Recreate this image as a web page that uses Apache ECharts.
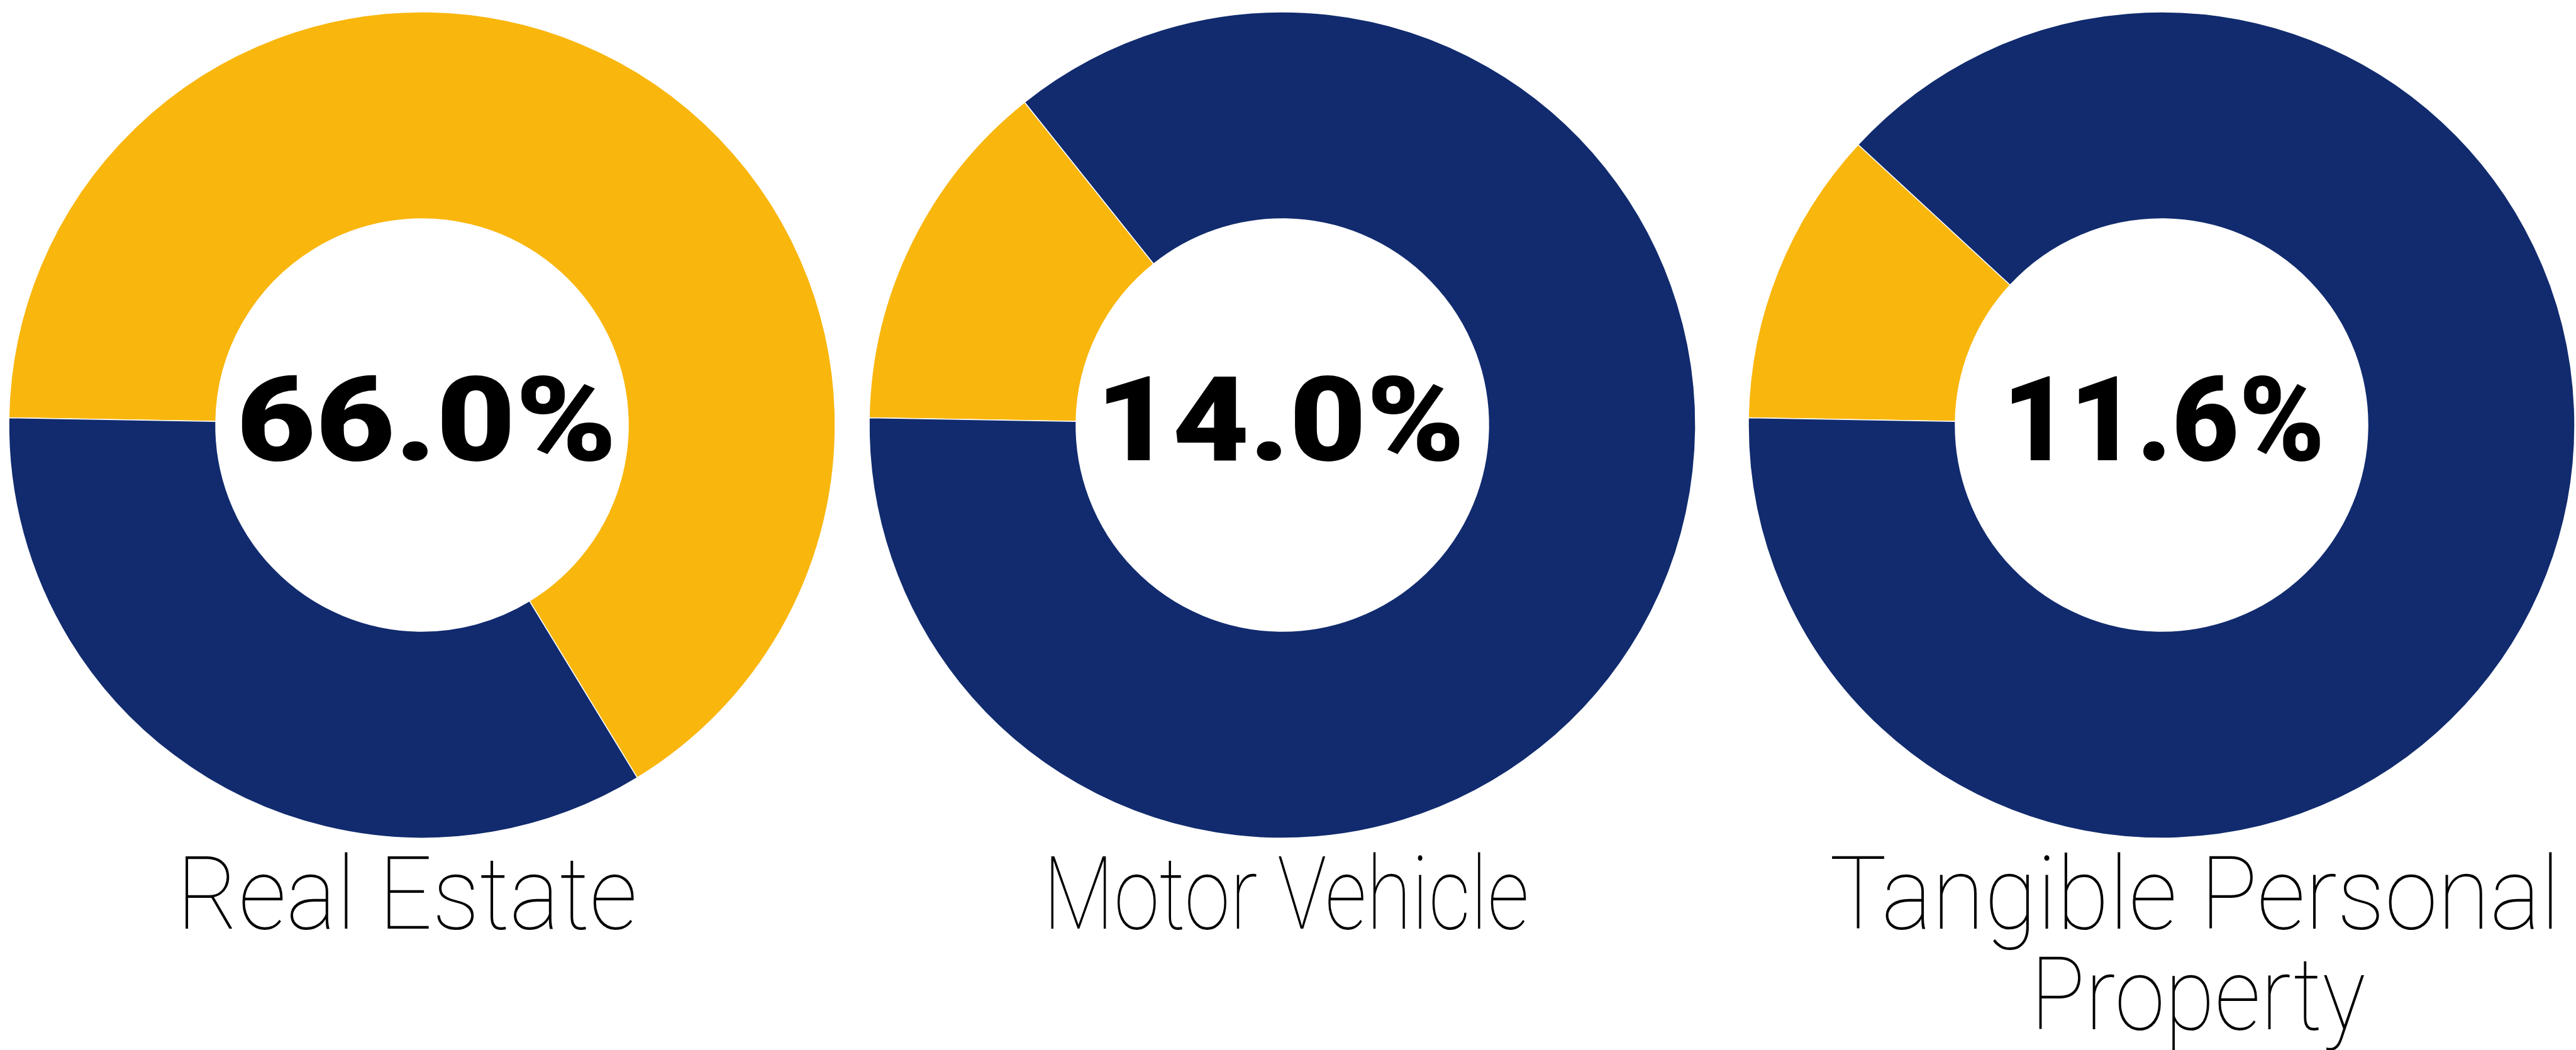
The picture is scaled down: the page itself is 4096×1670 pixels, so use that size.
<!DOCTYPE html>
<html>
<head>
<meta charset="utf-8">
<script src="https://cdn.jsdelivr.net/npm/echarts@6/dist/echarts.min.js"></script>
<style>
  html, body { margin: 0; padding: 0; background: #fff; }
  #main { width: 4096px; height: 1670px; }
</style>
</head>
<body>
<div id="main"></div>
<script>
// data
var categories = ['Real Estate', 'Motor Vehicle', 'Tangible Personal\nProperty'];
var shareValues = [66.0, 14.0, 11.6];
var otherValues = [34.0, 86.0, 88.4];

var YELLOW = '#F9B60D';
var NAVY = '#112B6E';

// layout per donut
var centersX = [671, 2039, 3437];
var centerY = 676;
var valueLeft = [376, 1742, 3184];
var valueScale = [1.162, 1.128, 0.985];
var labelX = [[647], [2045], [3490, 3495]];
var labelScale = [[0.93], [0.81], [0.94, 0.894]];

var chart = echarts.init(document.getElementById('main'));

var series = [];
var graphics = [];
categories.forEach(function (name, i) {
    series.push({
        type: 'pie',
        center: [centersX[i], centerY],
        radius: [328, 657],
        startAngle: 179,
        clockwise: true,
        silent: true,
        label: { show: false },
        labelLine: { show: false },
        itemStyle: { borderColor: '#fff', borderWidth: 1.5 },
        data: [
            { name: name, value: shareValues[i], itemStyle: { color: YELLOW } },
            { name: 'Other', value: otherValues[i], itemStyle: { color: NAVY } }
        ]
    });
    graphics.push({
        type: 'text',
        z: 100,
        x: valueLeft[i],
        y: 685,
        scaleX: valueScale[i],
        style: {
            text: shareValues[i].toFixed(1) + '%',
            fill: '#000',
            font: '900 187px Roboto, Inter, sans-serif',
            textAlign: 'left',
            textVerticalAlign: 'middle'
        }
    });
    name.split('\n').forEach(function (line, j) {
        graphics.push({
            type: 'text',
            z: 100,
            x: labelX[i][j],
            y: 1436 + j * 160,
            scaleX: labelScale[i][j],
            style: {
                text: line,
                fill: '#000',
                font: '100 162px Roboto, Inter, sans-serif',
                textAlign: 'center',
                textVerticalAlign: 'middle'
            }
        });
    });
});

chart.setOption({
    backgroundColor: '#fff',
    animation: false,
    series: series,
    graphic: graphics
});
</script>
</body>
</html>
